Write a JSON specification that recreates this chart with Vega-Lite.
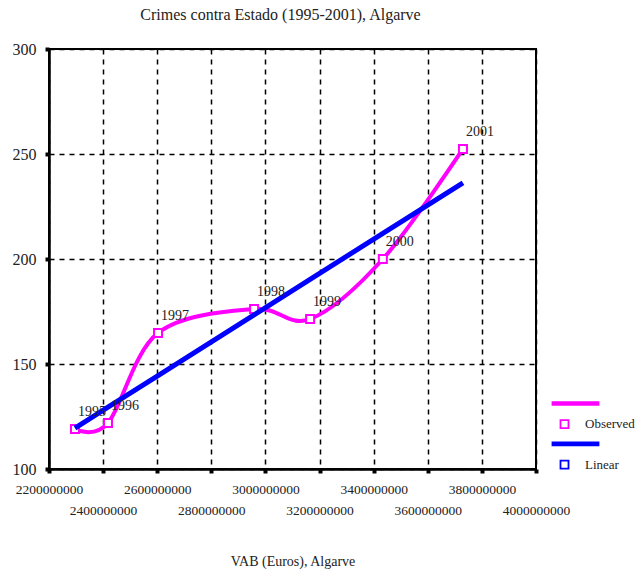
{
  "$schema": "https://vega.github.io/schema/vega-lite/v6.json",
  "width": 487,
  "height": 420,
  "autosize": {"type": "none"},
  "padding": {"left": 49, "top": 49, "right": 101, "bottom": 106},
  "background": "white",
  "title": {
    "text": "Crimes contra Estado (1995-2001), Algarve",
    "font": "Liberation Serif",
    "fontSize": 16,
    "fontWeight": "normal",
    "color": "#222",
    "anchor": "middle",
    "dx": -12,
    "offset": 18
  },
  "config": {
    "view": {"stroke": "black", "strokeWidth": 2},
    "axis": {
      "domainColor": "black",
      "domainWidth": 2.5,
      "tickColor": "black",
      "tickWidth": 4,
      "tickSize": 4,
      "grid": true,
      "gridColor": "black",
      "gridDash": [5, 5],
      "gridWidth": 1.5,
      "gridOpacity": 1,
      "labelFont": "Liberation Serif",
      "labelColor": "#222",
      "titleFont": "Liberation Serif",
      "titleFontWeight": "normal",
      "titleColor": "#222"
    },
    "legend": {
      "orient": "none",
      "legendX": 509,
      "legendY": 348,
      "padding": 0,
      "symbolSize": 64,
      "symbolStrokeWidth": 1.8,
      "rowPadding": 4.7,
      "labelOffset": 14,
      "labelFont": "Liberation Serif",
      "labelFontSize": 13,
      "labelColor": "#222"
    }
  },
  "datasets": {
    "obs": [
      {"year": "1995", "vab": 2296000000, "crimes": 119, "series": "Observed"},
      {"year": "1996", "vab": 2418000000, "crimes": 121.9, "series": "Observed"},
      {"year": "1997", "vab": 2603000000, "crimes": 164.8, "series": "Observed"},
      {"year": "1998", "vab": 2958000000, "crimes": 176.2, "series": "Observed"},
      {"year": "1999", "vab": 3165000000, "crimes": 171.4, "series": "Observed"},
      {"year": "2000", "vab": 3434000000, "crimes": 200, "series": "Observed"},
      {"year": "2001", "vab": 3730000000, "crimes": 252.4, "series": "Observed"}
    ],
    "fit": [
      {"vab": 2296000000, "crimes": 119.5},
      {"vab": 2418000000, "crimes": 129.5},
      {"vab": 2603000000, "crimes": 144.5},
      {"vab": 2958000000, "crimes": 173.4},
      {"vab": 3165000000, "crimes": 190.3},
      {"vab": 3434000000, "crimes": 212.2},
      {"vab": 3730000000, "crimes": 236.3}
    ]
  },
  "encoding": {
    "x": {
      "field": "vab",
      "type": "quantitative",
      "scale": {"domain": [2200000000, 4000000000], "nice": false, "zero": false},
      "axis": {
        "values": [2200000000, 2400000000, 2600000000, 2800000000, 3000000000, 3200000000, 3400000000, 3600000000, 3800000000, 4000000000],
        "format": "d",
        "title": "VAB (Euros), Algarve",
        "titleFontSize": 14,
        "titlePadding": 38,
        "labelFontSize": 13.5,
        "labelPadding": 9,
        "labelLineHeight": 21,
        "labelFlush": false,
        "labelOverlap": false,
        "labelExpr": "round((datum.value - 2200000000) / 200000000) % 2 == 1 ? ['', datum.label] : datum.label"
      }
    },
    "y": {
      "field": "crimes",
      "type": "quantitative",
      "scale": {"domain": [100, 300], "nice": false, "zero": false},
      "axis": {
        "values": [100, 150, 200, 250, 300],
        "title": null,
        "labelFontSize": 16,
        "labelPadding": 9,
        "labelFlush": false
      }
    }
  },
  "layer": [
    {
      "data": {"name": "obs"},
      "mark": {"type": "line", "interpolate": "cardinal", "tension": 0, "color": "#FF00FF", "strokeWidth": 4},
      "encoding": {}
    },
    {
      "data": {"name": "obs"},
      "mark": {"type": "point", "filled": true, "size": 64, "strokeWidth": 2, "opacity": 1},
      "encoding": {
        "stroke": {
          "field": "series",
          "type": "nominal",
          "scale": {
            "type": "ordinal",
            "domain": ["Observed_line", "Observed", "Linear_line", "Linear"],
            "range": ["#FF00FF", "#FF00FF", "#0000FF", "#0000FF"]
          },
          "legend": {
            "title": null,
            "labelExpr": "datum.value == 'Observed' || datum.value == 'Linear' ? datum.label : ''"
          }
        },
        "fill": {
          "field": "series",
          "type": "nominal",
          "scale": {
            "type": "ordinal",
            "domain": ["Observed_line", "Observed", "Linear_line", "Linear"],
            "range": ["#FF00FF", "white", "#0000FF", "white"]
          },
          "legend": {
            "title": null,
            "labelExpr": "datum.value == 'Observed' || datum.value == 'Linear' ? datum.label : ''"
          }
        },
        "shape": {
          "field": "series",
          "type": "nominal",
          "scale": {
            "type": "ordinal",
            "domain": ["Observed_line", "Observed", "Linear_line", "Linear"],
            "range": ["M-3,-0.35L8.5,-0.35L8.5,0.35L-3,0.35Z", "square", "M-3,-0.35L8.5,-0.35L8.5,0.35L-3,0.35Z", "square"]
          },
          "legend": {
            "title": null,
            "labelExpr": "datum.value == 'Observed' || datum.value == 'Linear' ? datum.label : ''"
          }
        }
      }
    },
    {
      "data": {"name": "fit"},
      "mark": {"type": "line", "color": "#0000FF", "strokeWidth": 5},
      "encoding": {}
    },
    {
      "data": {"name": "obs"},
      "mark": {"type": "text", "dx": 17, "dy": -17, "font": "Liberation Serif", "fontSize": 14, "color": "#222"},
      "encoding": {"text": {"field": "year", "type": "nominal"}}
    }
  ]
}
